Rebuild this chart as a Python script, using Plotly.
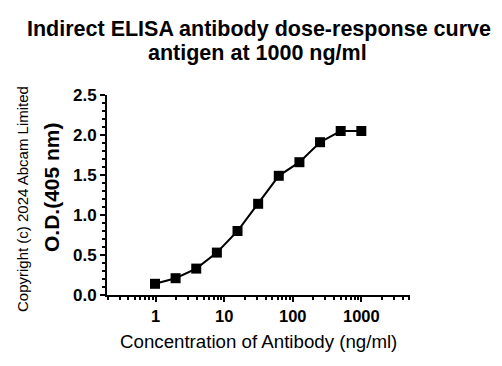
import plotly.graph_objects as go

concentration = [0.977, 1.953, 3.906, 7.813, 15.625, 31.25, 62.5, 125, 250, 500, 1000]
od_405 = [0.14, 0.21, 0.33, 0.53, 0.80, 1.14, 1.49, 1.66, 1.91, 2.05, 2.05]

x_tickvals = [1, 10, 100, 1000]
x_ticktext = ["1", "10", "100", "1000"]
y_tickvals = [0.0, 0.5, 1.0, 1.5, 2.0, 2.5]
y_ticktext = ["0.0", "0.5", "1.0", "1.5", "2.0", "2.5"]
x_minor = [m * d for d in [0.1, 1, 10, 100, 1000] for m in range(2, 10) if m * d < 5200]
y_minor = [i / 10 for i in range(0, 26)]

title_lines = ["Indirect ELISA antibody dose-response curve", "antigen at 1000 ng/ml"]

FONT = "Liberation Sans, Arial, sans-serif"

L, R, T, B = 107, 410, 95, 295
W, H = 502, 366

def px(x):
    return (x - L) / (R - L)

def py(y):
    return (B - y) / (B - T)

fig = go.Figure()
fig.add_trace(go.Scatter(
    x=concentration, y=od_405, mode="lines+markers",
    line=dict(color="black", width=2),
    marker=dict(symbol="square", size=10, color="black"),
    showlegend=False,
))

fig.update_layout(
    width=W, height=H,
    margin=dict(l=L, r=W - R, t=T, b=H - B, pad=0),
    paper_bgcolor="white", plot_bgcolor="white",
    font=dict(family=FONT, color="black"),
    xaxis=dict(
        type="log", range=[-0.71, 3.71],
        tickvals=x_tickvals, ticktext=x_ticktext,
        ticks="outside", ticklen=5, tickwidth=2, tickcolor="black",
        showline=True, linewidth=2, linecolor="black",
        showgrid=False, zeroline=False,
        tickfont=dict(size=16.5, weight="bold", family=FONT),
        minor=dict(tickvals=x_minor, ticks="outside", ticklen=3, tickwidth=2, tickcolor="black", showgrid=False),
    ),
    yaxis=dict(
        range=[0, 2.5],
        tickvals=y_tickvals, ticktext=y_ticktext,
        ticks="outside", ticklen=5, tickwidth=2, tickcolor="black",
        showline=True, linewidth=2, linecolor="black",
        showgrid=False, zeroline=False,
        tickfont=dict(size=17, weight="bold", family=FONT),
        minor=dict(tickvals=y_minor, ticks="outside", ticklen=3, tickwidth=2, tickcolor="black", showgrid=False),
    ),
    annotations=[
        dict(text=title_lines[0], x=px(259), y=py(29),
             xref="paper", yref="paper", showarrow=False, xanchor="center", yanchor="middle",
             font=dict(size=21.5, family=FONT, weight="bold")),
        dict(text=title_lines[1], x=px(257), y=py(53),
             xref="paper", yref="paper", showarrow=False, xanchor="center", yanchor="middle",
             font=dict(size=21.5, family=FONT, weight="bold")),
        dict(text="Concentration of Antibody (ng/ml)", x=px(258), y=py(341),
             xref="paper", yref="paper", showarrow=False, xanchor="center", yanchor="middle",
             font=dict(size=18.7, family=FONT)),
        dict(text="O.D.(405 nm)", x=px(51), y=py(187), textangle=-90,
             xref="paper", yref="paper", showarrow=False, xanchor="center", yanchor="middle",
             font=dict(size=21, family=FONT, weight="bold")),
        dict(text="Copyright (c) 2024 Abcam Limited", x=px(22), y=py(199), textangle=-90,
             xref="paper", yref="paper", showarrow=False, xanchor="center", yanchor="middle",
             font=dict(size=15, family=FONT)),
    ],
)

fig.write_html("out.html")
